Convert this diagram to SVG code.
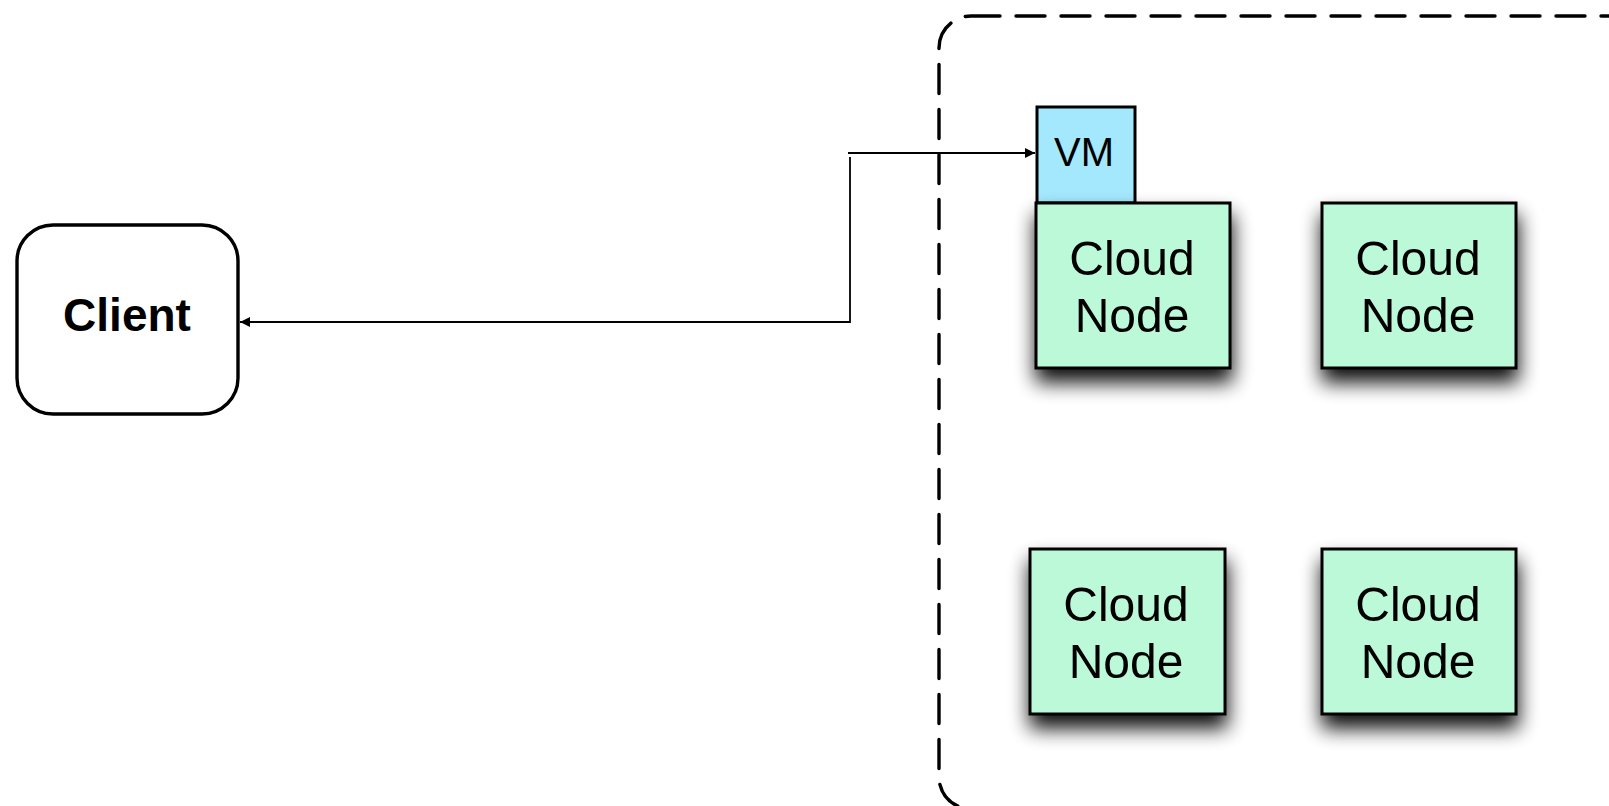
<svg xmlns="http://www.w3.org/2000/svg" width="1609" height="806" viewBox="0 0 1609 806">
  <style>
    .node { fill: #bbf9d8; stroke: #000; stroke-width: 3; }
    .vm { fill: #a4e8fd; stroke: #000; stroke-width: 3; }
    .lbl { font-family: "Liberation Sans", Arial, sans-serif; font-size: 48px; fill: #000; text-anchor: middle; }
    .conn { fill: none; stroke: #000; stroke-width: 1.8; }
  </style>
  <defs>
    <filter id="shadow" x="-30%" y="-30%" width="160%" height="190%">
      <feGaussianBlur in="SourceAlpha" stdDeviation="10"/>
      <feOffset dx="1" dy="13" result="b"/>
      <feComponentTransfer><feFuncA type="linear" slope="0.95"/></feComponentTransfer>
      <feMerge><feMergeNode/><feMergeNode in="SourceGraphic"/></feMerge>
    </filter>
    <marker id="arrow" markerWidth="10" markerHeight="10" refX="10" refY="5" orient="auto" markerUnits="userSpaceOnUse">
      <path d="M0,0 L10,5 L0,10 Z" fill="#000"/>
    </marker>
  </defs>
  <rect width="1609" height="806" fill="#fff"/>

  <g id="cloud-boundary">
    <rect x="939" y="16" width="700" height="793" rx="32" ry="32" fill="none" stroke="#000" stroke-width="3.4" stroke-dasharray="29 16" stroke-linecap="round"/>
  </g>

  <g id="client">
    <rect x="17" y="225" width="221" height="189" rx="36" ry="36" fill="#fff" stroke="#000" stroke-width="3.4"/>
    <text x="127" y="331" font-family="'Liberation Sans', Arial, sans-serif" font-size="46" font-weight="bold" text-anchor="middle">Client</text>
  </g>

  <g id="vm">
    <rect class="vm" x="1037" y="107" width="98" height="96"/>
    <text x="1084" y="166" class="lbl" style="font-size:40px">VM</text>
  </g>

  <g id="node1" filter="url(#shadow)">
    <rect class="node" x="1036" y="203" width="194" height="165"/>
    <text class="lbl" x="1132" y="275">Cloud</text>
    <text class="lbl" x="1132" y="332">Node</text>
  </g>
  <g id="node2" filter="url(#shadow)">
    <rect class="node" x="1322" y="203" width="194" height="165"/>
    <text class="lbl" x="1418" y="275">Cloud</text>
    <text class="lbl" x="1418" y="332">Node</text>
  </g>
  <g id="node3" filter="url(#shadow)">
    <rect class="node" x="1030" y="549" width="195" height="165"/>
    <text class="lbl" x="1126" y="621">Cloud</text>
    <text class="lbl" x="1126" y="678">Node</text>
  </g>
  <g id="node4" filter="url(#shadow)">
    <rect class="node" x="1322" y="549" width="194" height="165"/>
    <text class="lbl" x="1418" y="621">Cloud</text>
    <text class="lbl" x="1418" y="678">Node</text>
  </g>

  <g id="connectors">
    <path class="conn" d="M848,153 H1035" marker-end="url(#arrow)"/>
    <path class="conn" d="M850,157 V322 H240" marker-end="url(#arrow)"/>
  </g>
</svg>
